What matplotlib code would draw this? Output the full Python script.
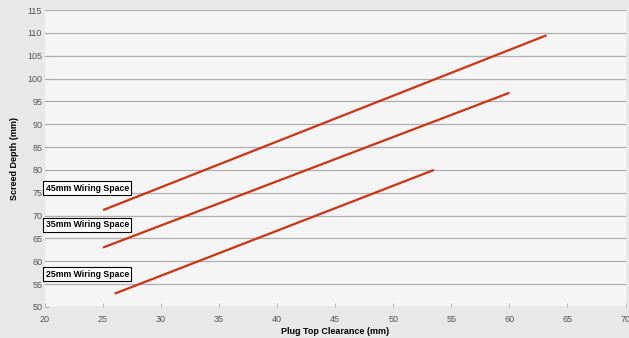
import matplotlib.pyplot as plt

# data
series_labels = ['45mm Wiring Space', '35mm Wiring Space', '25mm Wiring Space']
clearance_start = [25, 25, 26]
clearance_end = [63.2, 60, 53.5]
depth_start = [71.2, 63, 52.9]
depth_end = [109.5, 96.9, 80]
label_y = [76, 68, 57.2]

x_ticks = list(range(20, 71, 5))
y_ticks = list(range(50, 116, 5))

plt.rcParams['font.family'] = ['Liberation Sans', 'DejaVu Sans']

fig = plt.figure(figsize=(6.29, 3.38), dpi=100, facecolor='#e8e8e8')
ax = fig.add_axes([0.0715, 0.092, 0.923, 0.878])
ax.set_facecolor('#f5f5f5')

for x0, x1, y0, y1 in zip(clearance_start, clearance_end, depth_start, depth_end):
    ax.plot([x0, x1], [y0, y1], color='#cc3311', linewidth=1.6, solid_capstyle='butt')

for lab, ly in zip(series_labels, label_y):
    ax.text(20.05, ly, lab, fontsize=6.3, fontweight='bold', va='center', ha='left',
            bbox=dict(boxstyle='square,pad=0.3', facecolor='white', edgecolor='black', linewidth=0.8))

ax.set_xlim(20, 70)
ax.set_ylim(50, 115)
ax.set_xticks(x_ticks)
ax.set_yticks(y_ticks)
ax.yaxis.grid(True, color='#b0b0b0', linewidth=0.9)
ax.set_axisbelow(True)
for s in ax.spines.values():
    s.set_visible(False)
ax.tick_params(axis='both', labelsize=6.5, labelcolor='#555555', color='#aaaaaa',
               length=3, width=0.6, direction='in')
ax.tick_params(axis='x', pad=6)
ax.tick_params(axis='y', pad=2)

ax.set_xlabel('Plug Top Clearance (mm)', fontsize=6.5, fontweight='bold', labelpad=2)
ax.set_ylabel('Screed Depth (mm)', fontsize=6.5, fontweight='bold', labelpad=6)

fig.savefig('out.png', dpi=100, facecolor=fig.get_facecolor())
